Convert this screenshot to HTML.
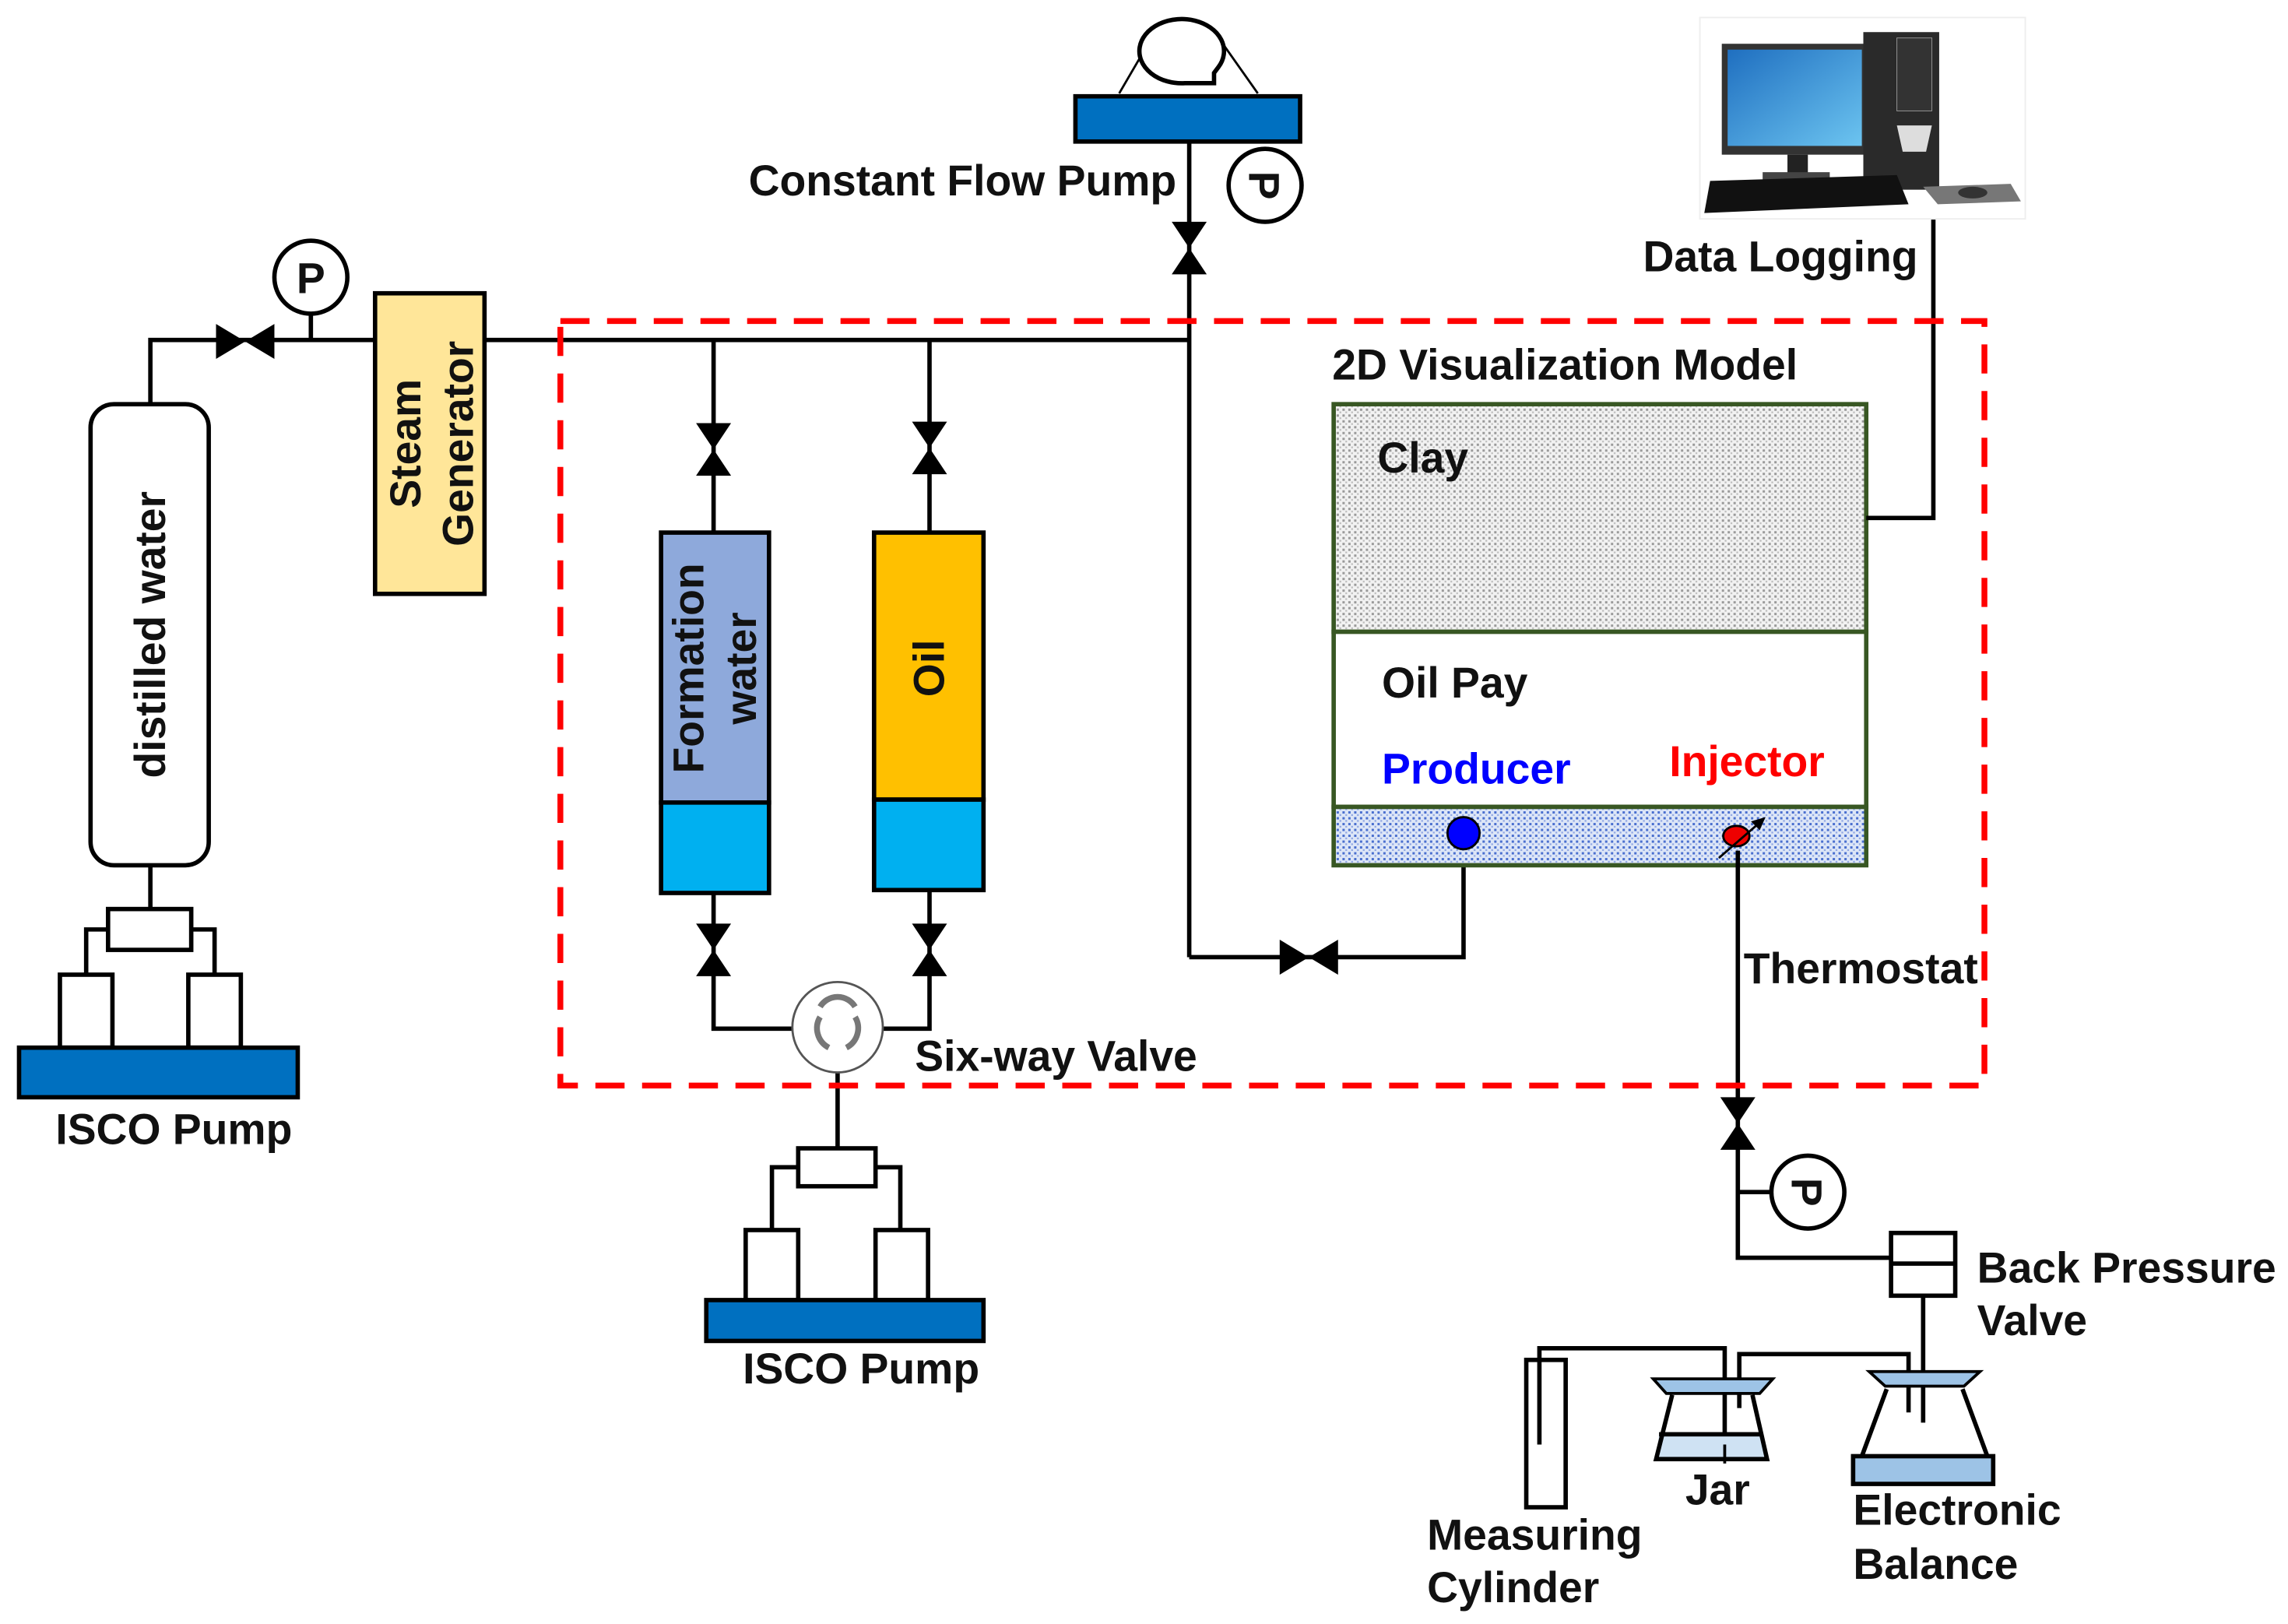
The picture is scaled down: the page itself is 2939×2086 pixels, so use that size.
<!DOCTYPE html>
<html><head><meta charset="utf-8"><style>
html,body{margin:0;padding:0;background:#fff;}
svg{display:block;}
text{font-family:"Liberation Sans",Arial,sans-serif;font-weight:bold;font-size:29.5px;fill:#111;}
</style></head><body>
<svg width="2939" height="2086" viewBox="0 0 1568 1113" xmlns="http://www.w3.org/2000/svg">
<defs>
<pattern id="dots" width="4" height="4" patternUnits="userSpaceOnUse"><rect width="4" height="4" fill="#f2f2f2"/><rect width="1.6" height="1.6" fill="#9a9a9a"/><rect x="2" y="2" width="1.2" height="1.2" fill="#bdbdbd"/></pattern>
<pattern id="bdots" width="4" height="4" patternUnits="userSpaceOnUse"><rect width="4" height="4" fill="#dde6f7"/><rect width="1.6" height="1.6" fill="#4a6fcf"/><rect x="2" y="2" width="1.2" height="1.2" fill="#8fa6e3"/></pattern>
<linearGradient id="scr" x1="0" y1="0" x2="1" y2="1"><stop offset="0" stop-color="#1f6fc0"/><stop offset="1" stop-color="#6cc4f0"/></linearGradient>
</defs>
<g stroke="#000" stroke-width="3" fill="none">
<rect x="62" y="277" width="81" height="316" rx="16" fill="#fff"/>
<polyline points="103,277 103,233 258,233"/>
<line x1="213" y1="216" x2="213" y2="233"/>
<circle cx="213" cy="190" r="25" fill="#fff"/>
<rect x="257" y="201" width="75" height="206" fill="#FFE699"/>
<line x1="332" y1="233" x2="815" y2="233"/>
<line x1="815" y1="97" x2="815" y2="656"/>
<polyline points="815,656 1003,656 1003,582"/>
<line x1="103" y1="593" x2="103" y2="623"/>
<rect x="74" y="623" width="57" height="28" fill="#fff"/>
<polyline points="74,637 59,637 59,668"/><polyline points="131,637 147,637 147,668"/>
<rect x="41" y="668" width="36" height="50" fill="#fff"/>
<rect x="129" y="668" width="36" height="50" fill="#fff"/>
<rect x="13" y="718" width="191" height="34" fill="#0070C0"/>
<line x1="489" y1="233" x2="489" y2="365"/>
<line x1="637" y1="233" x2="637" y2="365"/>
<rect x="453" y="365" width="74" height="185" fill="#8EA9DB"/>
<rect x="453" y="550" width="74" height="62" fill="#00B0F0"/>
<rect x="599" y="365" width="75" height="183" fill="#FFC000"/>
<rect x="599" y="548" width="75" height="62" fill="#00B0F0"/>
<polyline points="489,612 489,705 543,705"/>
<polyline points="637,610 637,705 605,705"/>
<line x1="574" y1="735" x2="574" y2="787"/>
<rect x="547" y="787" width="53" height="26" fill="#fff"/>
<polyline points="547,800 529,800 529,843"/><polyline points="600,800 617,800 617,843"/>
<rect x="511" y="843" width="36" height="48" fill="#fff"/>
<rect x="600" y="843" width="36" height="48" fill="#fff"/>
<rect x="484" y="891" width="190" height="28" fill="#0070C0"/>
<rect x="737" y="66" width="154" height="31" fill="#0070C0"/>
<line x1="767" y1="64" x2="788" y2="28" stroke-width="1.5"/>
<line x1="862" y1="64" x2="838" y2="30" stroke-width="1.5"/>
<path d="M 835,46 A 29 22 0 1 0 812,57 L 832,57 L 832,50 Z" fill="#fff"/>
<circle cx="867" cy="127" r="25" fill="#fff"/>
<rect x="914" y="277" width="365" height="156" fill="url(#dots)" stroke="#385723"/>
<rect x="914" y="433" width="365" height="120" fill="#fff" stroke="#385723"/>
<rect x="914" y="553" width="365" height="40" fill="url(#bdots)" stroke="#385723"/>
<polyline points="1279,355 1325,355 1325,150"/>
<polyline points="1191,583 1191,862 1296,862"/>
<line x1="1191" y1="817" x2="1214" y2="817"/>
<circle cx="1239" cy="817" r="25" fill="#fff"/>
<rect x="1296" y="845" width="44" height="43" fill="#fff"/>
<line x1="1296" y1="866" x2="1340" y2="866"/>
<line x1="1318" y1="888" x2="1318" y2="975"/>
<rect x="1046" y="932" width="27" height="101" fill="#fff"/>
<polyline points="1055,990 1055,924 1182,924 1182,990"/>
<polyline points="1192,965 1192,928 1308,928 1308,968"/>
<path d="M1137,983 L1207,983 L1211,1000 L1135,1000 Z" fill="#cfe2f3" stroke="none"/>
<path d="M1146,956 L1135,1000 L1211,1000 L1201,956" />
<line x1="1137" y1="983" x2="1207" y2="983"/>
<path d="M1133,945 L1215,945 L1206,955 L1142,955 Z" fill="#9DC3E6" stroke-width="2"/>
<path d="M1293,952 L1276,998 M1345,952 L1362,998"/>
<path d="M1281,940 L1357,940 L1346,950 L1292,950 Z" fill="#9DC3E6" stroke-width="2"/>
<rect x="1270" y="998" width="96" height="19" fill="#9DC3E6"/>
</g>
<line x1="1182" y1="990" x2="1182" y2="1003" stroke="#000" stroke-width="2"/>
<g fill="#000">
<path d="M148,222 L148,246 L168,234 Z M188,222 L188,246 L168,234 Z"/>
<path d="M877,644 L877,668 L897,656 Z M917,644 L917,668 L897,656 Z"/>
<path d="M803,152 L827,152 L815,170 Z M803,188 L827,188 L815,170 Z"/>
<path d="M477,290 L501,290 L489,308 Z M477,326 L501,326 L489,308 Z"/>
<path d="M625,289 L649,289 L637,307 Z M625,325 L649,325 L637,307 Z"/>
<path d="M477,633 L501,633 L489,651 Z M477,669 L501,669 L489,651 Z"/>
<path d="M625,633 L649,633 L637,651 Z M625,669 L649,669 L637,651 Z"/>
<path d="M1179,752 L1203,752 L1191,770 Z M1179,788 L1203,788 L1191,770 Z"/>
</g>
<circle cx="574" cy="704" r="31" fill="#fff" stroke="#555" stroke-width="1.5"/>
<g fill="none" stroke="#777" stroke-width="4"><path d="M562,690 A14 14 0 0 1 586,690"/><path d="M562,697 A15 15 0 0 0 568,718"/><path d="M586,697 A15 15 0 0 1 580,718"/></g>
<rect x="384" y="220" width="976" height="524" fill="none" stroke="#f00" stroke-width="4" stroke-dasharray="20 12"/>
<circle cx="1003" cy="571" r="11" fill="#0000ff" stroke="#000" stroke-width="1.5"/>
<ellipse cx="1190" cy="573" rx="9" ry="7" fill="#e00" stroke="#000" stroke-width="1.5"/>
<line x1="1178" y1="588" x2="1208" y2="562" stroke="#000" stroke-width="1.5"/>
<path d="M1210,560 L1200,563 L1206,569 Z" fill="#000"/>
<g>
<rect x="1165" y="12" width="223" height="138" fill="#fff" stroke="#eee"/>
<rect x="1180" y="30" width="100" height="76" fill="#333"/>
<rect x="1184" y="34" width="92" height="66" fill="url(#scr)"/>
<rect x="1225" y="106" width="14" height="14" fill="#222"/>
<rect x="1208" y="118" width="46" height="8" fill="#444"/>
<rect x="1277" y="22" width="52" height="108" fill="#2a2a2a"/>
<rect x="1300" y="26" width="24" height="50" fill="#333" stroke="#999" stroke-width="0.5"/>
<path d="M1300,86 L1324,86 L1320,104 L1304,104 Z" fill="#ddd"/>
<path d="M1172,124 L1300,120 L1308,140 L1168,146 Z" fill="#111"/>
<path d="M1318,128 L1378,126 L1385,138 L1328,140 Z" fill="#777"/>
<ellipse cx="1352" cy="132" rx="10" ry="4" fill="#333"/>
</g>
<text transform="translate(113,435) rotate(-90)" text-anchor="middle">distilled water</text>
<text transform="translate(288,304) rotate(-90)" text-anchor="middle">Steam</text>
<text transform="translate(324,304) rotate(-90)" text-anchor="middle">Generator</text>
<text transform="translate(482,458) rotate(-90)" text-anchor="middle">Formation</text>
<text transform="translate(518,458) rotate(-90)" text-anchor="middle">water</text>
<text transform="translate(647,458) rotate(-90)" text-anchor="middle">Oil</text>
<text x="213" y="201" text-anchor="middle" font-size="32">P</text>
<text transform="translate(867,127) rotate(90)" text-anchor="middle" dy="11" font-size="32">P</text>
<text transform="translate(1239,817) rotate(90)" text-anchor="middle" dy="11" font-size="32">P</text>
<text x="513" y="134">Constant Flow Pump</text>
<text x="1126" y="186">Data Logging</text>
<text x="913" y="260">2D Visualization Model</text>
<text x="944" y="324">Clay</text>
<text x="947" y="478">Oil Pay</text>
<text x="947" y="537" style="fill:#0000ff">Producer</text>
<text x="1144" y="532" style="fill:#ff0000">Injector</text>
<text x="1195" y="674">Thermostat</text>
<text x="627" y="734">Six-way Valve</text>
<text x="38" y="784">ISCO Pump</text>
<text x="509" y="948">ISCO Pump</text>
<text x="1355" y="879">Back Pressure</text>
<text x="1355" y="915">Valve</text>
<text x="1155" y="1031">Jar</text>
<text x="1270" y="1045">Electronic</text>
<text x="1270" y="1082">Balance</text>
<text x="978" y="1062">Measuring</text>
<text x="978" y="1098">Cylinder</text>
</svg>
</body></html>
